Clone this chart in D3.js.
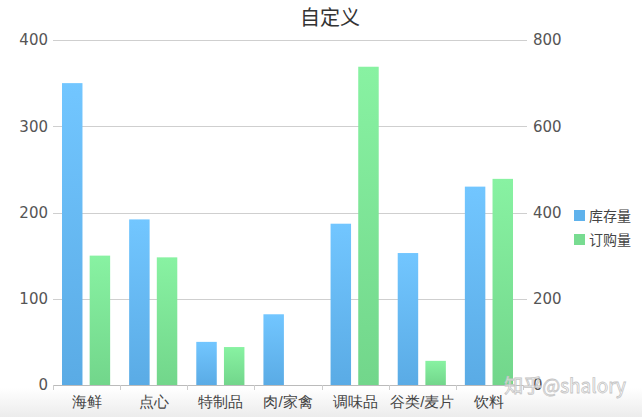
<!DOCTYPE html>
<html>
<head>
<meta charset="utf-8">
<script src="https://cdn.jsdelivr.net/npm/d3@7"></script>
<style>
  body { margin: 0; background: #fff; }
  svg { display: block; font-family: "Noto Sans CJK SC", "DejaVu Sans", sans-serif; }
</style>
</head>
<body>
<div id="chart"></div>
<script>
// data
var categories = ["海鲜", "点心", "特制品", "肉/家禽", "调味品", "谷类/麦片", "饮料"];
var stock = [350, 192, 50, 82, 187, 153, 230];   // 库存量, left axis
var orders = [300, 296, 88, 0, 738, 56, 478];    // 订购量, right axis
var leftTicks = [0, 100, 200, 300, 400];
var rightTicks = [0, 200, 400, 600, 800];
var seriesNames = ["库存量", "订购量"];

var W = 642, H = 417;
var margin = {top: 40, right: 119, bottom: 32, left: 53};
var width = W - margin.left - margin.right,
    height = H - margin.top - margin.bottom;

var svg = d3.select("#chart").append("svg")
    .attr("width", W)
    .attr("height", H);

var defs = svg.append("defs");
function grad(id, top, bottom) {
  var g = defs.append("linearGradient").attr("id", id)
      .attr("x1", 0).attr("y1", 0).attr("x2", 0).attr("y2", 1);
  g.append("stop").attr("offset", "0%").attr("stop-color", top);
  g.append("stop").attr("offset", "100%").attr("stop-color", bottom);
}
grad("gBlue", "#72c6ff", "#5aabe5");
grad("gGreen", "#88f2a2", "#72d68b");
grad("gFloor", "#ffffff", "#ececec");

// faint grey band at the bottom of the picture
svg.append("rect")
    .attr("x", 0).attr("y", 388)
    .attr("width", W).attr("height", H - 388)
    .attr("fill", "url(#gFloor)");

var g = svg.append("g")
    .attr("transform", "translate(" + margin.left + "," + margin.top + ")");

// scales
var x = d3.scaleBand().domain(categories).range([0, width]);
var yL = d3.scaleLinear().domain([0, 400]).range([height, 0]);
var yR = d3.scaleLinear().domain([0, 800]).range([height, 0]);

// grid lines
g.append("g")
    .selectAll("line")
    .data(leftTicks.slice(1))
    .enter().append("line")
    .attr("x1", 0).attr("x2", width + 4)
    .attr("y1", function(d) { return Math.round(yL(d)) + 0.5; })
    .attr("y2", function(d) { return Math.round(yL(d)) + 0.5; })
    .attr("stroke", "#cfcfcf");

// left axis
var axL = g.append("g")
    .call(d3.axisLeft(yL).tickValues(leftTicks).tickSize(0).tickPadding(5));
axL.select(".domain").remove();
axL.selectAll("text").attr("fill", "#555").style("font-size", "15px")
    .style("font-family", "'DejaVu Sans', sans-serif");

// right axis
var axR = g.append("g")
    .attr("transform", "translate(" + (width + 4) + ",0)")
    .call(d3.axisRight(yR).tickValues(rightTicks).tickSize(0).tickPadding(6));
axR.select(".domain").remove();
axR.selectAll("text").attr("fill", "#555").style("font-size", "15px")
    .style("font-family", "'DejaVu Sans', sans-serif");

// bars
var inner = d3.scaleBand().domain([0, 1]).range([9, x.bandwidth() - 10]).paddingInner(0.26);
var groups = g.selectAll(".cat")
    .data(categories)
    .enter().append("g")
    .attr("transform", function(d) { return "translate(" + x(d) + ",0)"; });

groups.append("rect")
    .attr("x", inner(0))
    .attr("width", inner.bandwidth())
    .attr("y", function(d, i) { return yL(stock[i]); })
    .attr("height", function(d, i) { return height - yL(stock[i]); })
    .attr("fill", "url(#gBlue)");

groups.append("rect")
    .attr("x", inner(1))
    .attr("width", inner.bandwidth())
    .attr("y", function(d, i) { return yR(orders[i]); })
    .attr("height", function(d, i) { return height - yR(orders[i]); })
    .attr("fill", "url(#gGreen)");

// bottom axis
var axB = g.append("g")
    .attr("transform", "translate(0," + height + ")")
    .call(d3.axisBottom(x).tickSize(0).tickPadding(11));
axB.select(".domain").attr("stroke", "#bbb");
axB.selectAll("text").attr("fill", "#444").style("font-size", "15px");
// separators between categories
axB.selectAll(".sep")
    .data(categories.concat(["end"]))
    .enter().append("line")
    .attr("x1", function(d, i) { return Math.round(i * x.step()) + 0.5; })
    .attr("x2", function(d, i) { return Math.round(i * x.step()) + 0.5; })
    .attr("y1", 0).attr("y2", 5)
    .attr("stroke", "#ccc");

// title
svg.append("text")
    .attr("x", 330).attr("y", 25)
    .attr("text-anchor", "middle")
    .attr("fill", "#333")
    .style("font-size", "20px")
    .text("自定义");

// legend
var legend = svg.append("g").attr("transform", "translate(574,210)");
var legColors = ["#5fb2ec", "#78dc91"];
seriesNames.forEach(function(name, i) {
  var row = legend.append("g").attr("transform", "translate(0," + (i * 24) + ")");
  row.append("rect").attr("width", 11).attr("height", 11).attr("fill", legColors[i]);
  row.append("text").attr("x", 15).attr("y", 10.5)
      .attr("fill", "#444").style("font-size", "14px").text(name);
});

// watermark
svg.append("text")
    .attr("x", 626).attr("y", 393)
    .attr("text-anchor", "end")
    .attr("fill", "#fff").attr("fill-opacity", 0.6)
    .attr("stroke", "#c4c4c4").attr("stroke-width", 0.8)
    .style("font-size", "19px")
    .text("知乎@shalory");
</script>
</body>
</html>
